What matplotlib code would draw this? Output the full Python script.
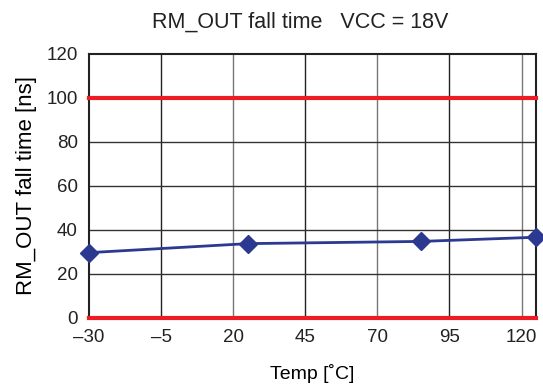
import matplotlib.pyplot as plt

# Data
temps = [-30, 25, 85, 125]
fall_time = [29.7, 33.8, 34.8, 36.7]
limit_lines = [0, 100]
x_ticks = [-30, -5, 20, 45, 70, 95, 120]
x_labels = ['\u201330', '\u20135', '20', '45', '70', '95', '120']
y_ticks = [0, 20, 40, 60, 80, 100, 120]

plt.rcParams['font.family'] = ['Liberation Sans', 'DejaVu Sans']
plt.rcParams['text.color'] = '#222222'

fig = plt.figure(figsize=(5.43, 3.92), dpi=100)
ax = fig.add_axes([0.1639, 0.1888, 0.8231, 0.6735])

# Grid
for i, xt in enumerate(x_ticks[1:]):
    ax.axvline(xt, color='#222222' if i % 2 == 0 else '#777777', lw=1, zorder=1)
for yt in y_ticks[1:-1]:
    ax.axhline(yt, color='#333333', lw=1, zorder=1)

# Limits
for yl in limit_lines:
    ax.axhline(yl, color='#ED1C24', lw=3, zorder=3, clip_on=False)

ax.plot(temps, fall_time, color='#2B3990', lw=2, marker='D', markersize=9,
        zorder=4, clip_on=False)

ax.set_xlim(-30, 125)
ax.set_ylim(0, 120)
ax.set_xticks(x_ticks)
ax.set_xticklabels(x_labels)
ax.set_yticks(y_ticks)
ax.tick_params(length=0, labelsize=13.5, pad=8, labelcolor='#222222')
for s in ax.spines.values():
    s.set_color('#222222')
    s.set_linewidth(1.5)

ax.set_xlabel('Temp [\u02daC]', fontsize=14, labelpad=13)
ax.set_ylabel('RM_OUT fall time [ns]', fontsize=16, labelpad=7)
ax.set_title('RM_OUT fall time   VCC = 18V', fontsize=15.5, pad=19, x=0.472)

fig.savefig('out.png', dpi=100)
